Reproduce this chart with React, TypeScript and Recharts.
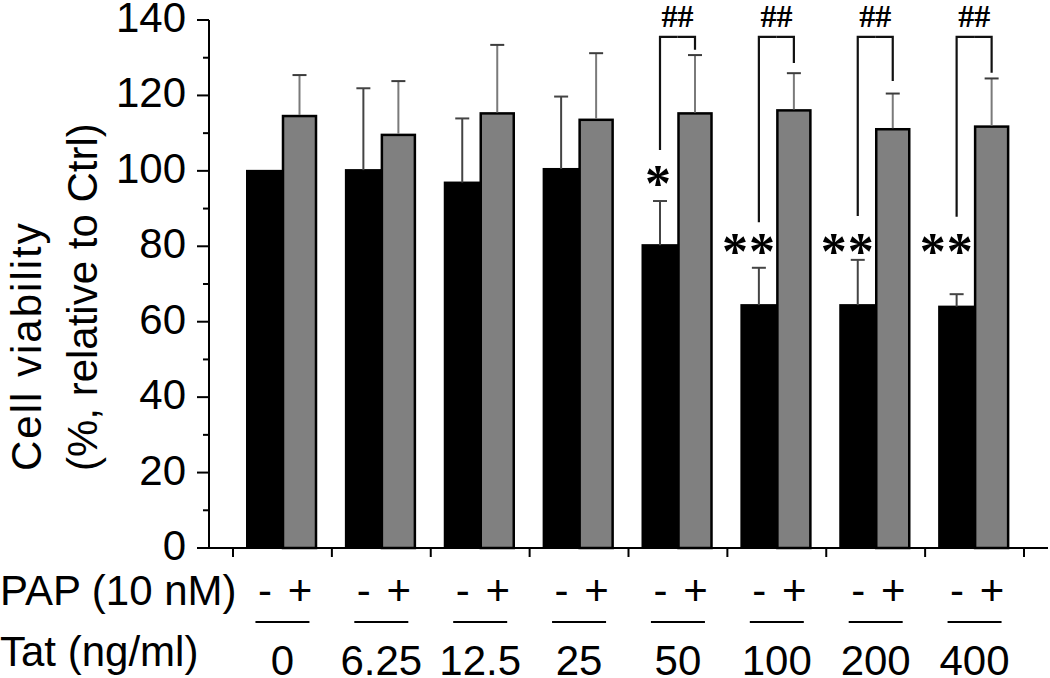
import React from 'react';
import { BarChart, Bar, XAxis, YAxis } from 'recharts';

// ---- data ----
const tatLabels = ['0', '6.25', '12.5', '25', '50', '100', '200', '400'];
const papNeg = [100, 100.2, 96.9, 100.5, 80.3, 64.4, 64.4, 64.0];
const papNegErr = [0, 21.7, 17.0, 19.2, 11.7, 9.9, 12.0, 3.3];
const papPos = [114.8, 109.8, 115.5, 113.8, 115.5, 116.3, 111.3, 112.0];
const papPosErr = [10.6, 14.0, 17.9, 17.4, 15.2, 9.6, 9.2, 12.5];
const starMarks = ['', '', '', '', '*', '**', '**', '**'];
const starLevel = [0, 0, 0, 0, 99, 81, 81, 81];
const hashMarks = ['', '', '', '', '##', '##', '##', '##'];
const bracketLeftEnd = [0, 0, 0, 0, 105.5, 86.4, 88.0, 87.8];
const bracketRightEnd = [0, 0, 0, 0, 132.1, 128.6, 123.8, 126.0];
const bracketTop = 135.5;
const hashLevel = 138.2;
const yTicks = [0, 10, 20, 30, 40, 50, 60, 70, 80, 90, 100, 110, 120, 130, 140];
const papRowLabel = 'PAP (10 nM)';
const tatRowLabel = 'Tat (ng/ml)';
const yTitle1 = 'Cell viability';
const yTitle2 = '(%, relative to Ctrl)';

const data = tatLabels.map((t, i) => ({
  tat: t,
  neg: papNeg[i],
  negErr: papNegErr[i],
  pos: papPos[i],
  posErr: papPosErr[i],
  star: starMarks[i],
  starLv: starLevel[i],
  hash: hashMarks[i],
  bL: bracketLeftEnd[i],
  bR: bracketRightEnd[i],
}));

// ---- layout ----
const W = 1050;
const H = 678;
const MARGIN = { top: 20, right: 2, bottom: 0, left: 0 };
const Y_AXIS_W = 209;
const X_AXIS_H = 130;
const PAD = 24;
const BAR = 35;
const BAND = (W - MARGIN.right - MARGIN.left - Y_AXIS_W - 2 * PAD) / tatLabels.length;
const FONT = '"Liberation Sans", Arial, sans-serif';
const SERIF = '"Liberation Serif", "Times New Roman", serif';
const FS = 42;
const STAR_FS = 52;

const ErrUp = ({ cx, y0, y1, color, capColor }: any) => (
  <g>
    <line x1={cx} y1={y0} x2={cx} y2={y1} stroke={color} strokeWidth={2} />
    <line x1={cx - 7} y1={y1} x2={cx + 7} y2={y1} stroke={capColor} strokeWidth={2} />
  </g>
);

const Star = ({ x, y }: any) => (
  <text x={x} y={y + 0.5 * STAR_FS} fontFamily={SERIF} fontWeight="bold" fontSize={STAR_FS} textAnchor="middle" fill="#000">*</text>
);

const NegShape = (p: any) => {
  const { x, y, width, height, payload } = p;
  const val = payload.neg;
  const base = y + height;
  const py = (v: number) => base - (v * height) / val;
  const cx = x + width / 2;
  return (
    <g>
      <rect x={x} y={y} width={width} height={height} fill="#000" stroke="#000" strokeWidth={2} />
      {payload.negErr > 0 && (
        <ErrUp cx={cx} y0={y} y1={py(val + payload.negErr)} color="#444" capColor="#444" />
      )}
      {payload.star === '*' && <Star x={cx - 2} y={py(payload.starLv)} />}
      {payload.star === '**' && (
        <g>
          <Star x={cx - 24} y={py(payload.starLv)} />
          <Star x={cx + 3} y={py(payload.starLv)} />
        </g>
      )}
      {payload.hash && (
        <polyline
          points={`${cx},${py(payload.bL)} ${cx},${py(bracketTop)} ${x + width},${py(bracketTop)}`}
          fill="none" stroke="#111" strokeWidth={2.2}
        />
      )}
    </g>
  );
};

const PosShape = (p: any) => {
  const { x, y, width, height, payload } = p;
  const val = payload.pos;
  const base = y + height;
  const py = (v: number) => base - (v * height) / val;
  const cx = x + width / 2;
  return (
    <g>
      <rect x={x + 1} y={y + 1} width={width - 2} height={height - 1} fill="#808080" stroke="#000" strokeWidth={2.5} />
      <ErrUp cx={cx} y0={y} y1={py(val + payload.posErr)} color="#7a7a7a" capColor="#3c3c3c" />
      {payload.hash && (
        <g>
          <polyline
            points={`${x},${py(bracketTop)} ${cx},${py(bracketTop)} ${cx},${py(payload.bR)}`}
            fill="none" stroke="#111" strokeWidth={2.2}
          />
          <text x={x} y={py(hashLevel)} fontFamily={SERIF} fontWeight="bold" fontSize={32} textAnchor="middle" fill="#000">{payload.hash}</text>
        </g>
      )}
    </g>
  );
};

const XTick = (p: any) => {
  const { x, y, payload, index } = p;
  const half = BAND / 2;
  const isLast = index === tatLabels.length - 1;
  return (
    <g fontFamily={FONT} fontSize={FS} fill="#000">
      <line x1={x - half} y1={y} x2={x - half} y2={y + 9} stroke="#000" strokeWidth={2} />
      {isLast && <line x1={x + half} y1={y} x2={x + half} y2={y + 9} stroke="#000" strokeWidth={2} />}
      <text x={x - BAR / 2} y={y + 57} textAnchor="middle">-</text>
      <text x={x + BAR / 2} y={y + 57} textAnchor="middle">+</text>
      <line x1={x - 27} y1={y + 74} x2={x + 27} y2={y + 74} stroke="#000" strokeWidth={2} />
      <text x={x} y={y + 127} textAnchor="middle">{payload.value}</text>
      {index === 0 && (
        <g>
          <text x={0} y={y + 57} textAnchor="start">{papRowLabel}</text>
          <text x={0} y={y + 118} textAnchor="start">{tatRowLabel}</text>
        </g>
      )}
    </g>
  );
};

const YTick = (p: any) => {
  const { x, y, payload } = p;
  const major = payload.value % 20 === 0;
  return (
    <g>
      <line x1={x - (major ? 12 : 6)} y1={y} x2={x} y2={y} stroke="#000" strokeWidth={2} />
      {major && (
        <text x={x - 23} y={y + 12} textAnchor="end" fontFamily={FONT} fontSize={FS} fill="#000">
          {payload.value}
        </text>
      )}
    </g>
  );
};

const YTitle = () => (
  <g fontFamily={FONT} fontSize={FS} fill="#000">
    <text transform="translate(41,471) rotate(-90)" textAnchor="start" letterSpacing={2}>{yTitle1}</text>
    <text transform="translate(97,471) rotate(-90)" textAnchor="start">{yTitle2}</text>
  </g>
);

export default function App() {
  return (
    <div style={{ position: 'absolute', left: 0, top: 0, width: W, height: H, background: '#fff' }}>
      <BarChart width={W} height={H} data={data} margin={MARGIN} barGap={0} barSize={BAR}>
        <XAxis
          dataKey="tat"
          height={X_AXIS_H}
          padding={{ left: PAD, right: PAD }}
          axisLine={{ stroke: '#000', strokeWidth: 2 }}
          tickLine={false}
          tickSize={0}
          tickMargin={0}
          interval={0}
          tick={<XTick />}
        />
        <YAxis
          type="number"
          domain={[0, 140]}
          ticks={yTicks}
          width={Y_AXIS_W}
          axisLine={{ stroke: '#000', strokeWidth: 2 }}
          tickLine={false}
          tickSize={0}
          tickMargin={0}
          interval={0}
          tick={<YTick />}
          label={{ content: () => <YTitle /> }}
        />
        <Bar dataKey="neg" fill="#000" shape={<NegShape />} isAnimationActive={false} />
        <Bar dataKey="pos" fill="#808080" shape={<PosShape />} isAnimationActive={false} />
      </BarChart>
    </div>
  );
}
